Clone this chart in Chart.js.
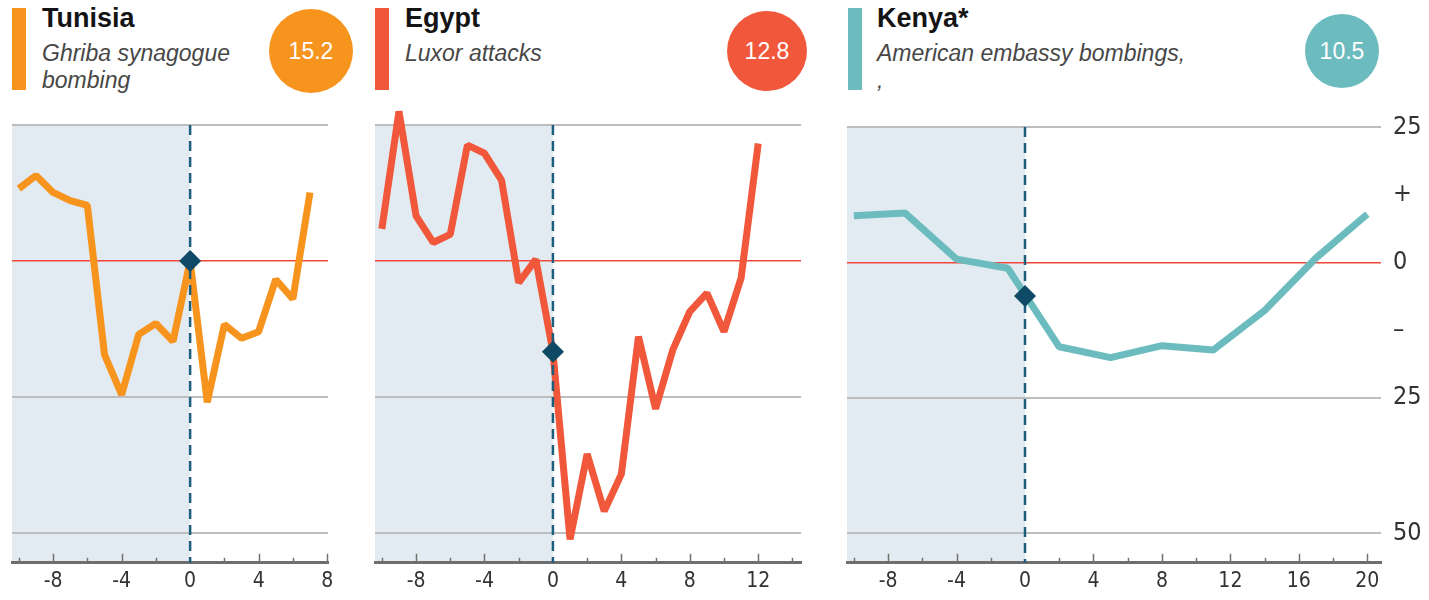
<!DOCTYPE html>
<html>
<head>
<meta charset="utf-8">
<script src="https://cdn.jsdelivr.net/npm/chart.js@4.4.1/dist/chart.umd.min.js"></script>
<style>
  body { margin: 0; background: #fff; width: 1429px; height: 600px; position: relative; overflow: hidden;
         font-family: "Liberation Sans", Arial, sans-serif; }
  .bar { position: absolute; top: 8px; width: 14px; height: 82px; }
  .ttl { position: absolute; top: 3px; font-weight: bold; font-size: 27px; line-height: 30px; color: #141414; white-space: nowrap; }
  .sub { position: absolute; top: 40px; font-style: italic; font-size: 23px; line-height: 27px; color: #474747; white-space: nowrap; }
  .dot { position: absolute; border-radius: 50%; color: #fff; font-size: 23px;
         display: flex; align-items: center; justify-content: center; }
  canvas { position: absolute; top: 100px; }
</style>
</head>
<body>
<div class="bar" style="left:12px;background:#f7941e"></div>
<div class="ttl" style="left:42px">Tunisia</div>
<div class="sub" style="left:42px">Ghriba synagogue<br>bombing</div>
<div class="dot" style="left:269px;top:9px;width:84px;height:84px;background:#f7941e">15.2</div>

<div class="bar" style="left:375px;background:#f0573b"></div>
<div class="ttl" style="left:405px">Egypt</div>
<div class="sub" style="left:405px">Luxor attacks</div>
<div class="dot" style="left:727px;top:11px;width:80px;height:80px;background:#f0573b">12.8</div>

<div class="bar" style="left:848px;background:#6cbcbf"></div>
<div class="ttl" style="left:877px">Kenya*</div>
<div class="sub" style="left:877px">American embassy bombings,<br>,</div>
<div class="dot" style="left:1305px;top:14px;width:74px;height:74px;background:#6cbcbf">10.5</div>

<canvas id="c1" width="345" height="500" style="left:0px"></canvas>
<canvas id="c2" width="455" height="500" style="left:360px"></canvas>
<canvas id="c3" width="594" height="500" style="left:835px"></canvas>

<script>
// months relative to the attack (x) and % change in tourist arrivals (y)
var tunisiaX = [-10, -9, -8, -7, -6, -5, -4, -3, -2, -1, 0, 1, 2, 3, 4, 5, 6, 7];
var tunisiaY = [13.3, 15.7, 12.6, 11.1, 10.2, -17.2, -24.6, -13.5, -11.5, -14.8, 0, -26, -11.7, -14.2, -13, -3.4, -7, 12.6];

var egyptX = [-10, -9, -8, -7, -6, -5, -4, -3, -2, -1, 0, 1, 2, 3, 4, 5, 6, 7, 8, 9, 10, 11, 12];
var egyptY = [5.9, 27.5, 8.3, 3.4, 4.9, 21.3, 19.8, 14.8, -4, 0.3, -16.7, -51.2, -35.5, -46, -39.2, -13.9, -27.2, -16.4, -9.3, -5.9, -13, -3.1, 21.6];

var kenyaX = [-10, -7, -4, -1, 2, 5, 8, 11, 14, 17, 20];
var kenyaY = [8.6, 9.1, 0.6, -1.1, -15.6, -17.6, -15.4, -16.2, -8.9, 0.8, 8.9];

// value at the moment of the attack
var markerY = [0, -16.7, -6.2];

var tunisiaTicks = [-10, -8, -6, -4, -2, 0, 2, 4, 6, 8];
var egyptTicks = [-10, -8, -6, -4, -2, 0, 2, 4, 6, 8, 10, 12, 14];
var kenyaTicks = [-10, -8, -6, -4, -2, 0, 2, 4, 6, 8, 10, 12, 14, 16, 18, 20];

var yTicks = [25, 12.5, 0, -12.5, -25, -50];
var yLabels = ['25', '+', '0', '\u2013', '25', '50'];

var narrow = '"Liberation Sans Narrow", "DejaVu Sans Condensed", "Liberation Sans", sans-serif';

// shaded "before" period, dashed attack line and small axis ticks
var shadePlugin = {
  id: 'shade',
  beforeDraw: function(chart) {
    var a = chart.chartArea, x0 = chart.scales.x.getPixelForValue(0);
    var ctx = chart.ctx;
    ctx.save();
    ctx.fillStyle = '#e2ebf1';
    ctx.fillRect(a.left, a.top, x0 - a.left, a.bottom - a.top);
    ctx.restore();
  },
  afterDatasetDraw: function(chart, args) {
    if (args.index !== 0) return;
    var a = chart.chartArea, x0 = chart.scales.x.getPixelForValue(0);
    var ctx = chart.ctx;
    ctx.save();
    ctx.strokeStyle = '#1d5e7c';
    ctx.lineWidth = 2.5;
    ctx.setLineDash([10, 6]);
    ctx.beginPath();
    ctx.moveTo(x0, a.top);
    ctx.lineTo(x0, a.bottom);
    ctx.stroke();
    ctx.restore();
  },
  afterDraw: function(chart) {
    var xs = chart.scales.x, a = chart.chartArea, ctx = chart.ctx;
    ctx.save();
    ctx.strokeStyle = '#707070';
    ctx.lineWidth = 1.5;
    xs.ticks.forEach(function(t) {
      if (t.value === 0) return;
      var px = Math.round(xs.getPixelForValue(t.value)) + 0.5;
      var len = t.value % 4 === 0 ? 9 : 5;
      ctx.beginPath();
      ctx.moveTo(px, a.bottom);
      ctx.lineTo(px, a.bottom - len);
      ctx.stroke();
    });
    ctx.restore();
  }
};

function makePanel(id, xs, ys, ticks, color, mY, xMax, showY, pad) {
  var pts = xs.map(function(x, i) { return { x: x, y: ys[i] }; });
  var yAxis = {
    min: -55.5, max: 25,
    position: 'right',
    afterBuildTicks: function(s) { s.ticks = yTicks.map(function(v) { return { value: v }; }); },
    grid: {
      drawTicks: false,
      color: function(c) {
        var v = c.tick && c.tick.value;
        if (v === 0) return '#f2473b';
        if (v === 25 || v === -25 || v === -50) return '#bdbdbd';
        return 'rgba(0,0,0,0)';
      },
      lineWidth: function(c) { return c.tick && c.tick.value === 0 ? 1.5 : 2; }
    },
    border: { display: false },
    ticks: {
      display: showY,
      padding: 12,
      color: '#333',
      font: { family: narrow, size: 25 },
      callback: function(v, i) { return yLabels[i]; }
    },
    afterFit: function(s) { s.width = showY ? 48 : 0; }
  };
  return new Chart(document.getElementById(id), {
    type: 'line',
    data: {
      datasets: [{
        data: pts,
        borderColor: color,
        borderWidth: 7,
        borderJoinStyle: 'bevel',
        pointRadius: 0,
        tension: 0,
        clip: false,
        order: 0
      }, {
        type: 'scatter',
        data: [{ x: 0, y: mY }],
        pointStyle: 'rectRot',
        pointRadius: 11,
        backgroundColor: '#0e4a66',
        borderWidth: 0,
        clip: false,
        order: -1
      }]
    },
    options: {
      responsive: false,
      animation: false,
      layout: { padding: pad },
      plugins: { legend: { display: false }, tooltip: { enabled: false } },
      scales: {
        x: {
          type: 'linear', min: -10.4, max: xMax,
          afterBuildTicks: function(s) { s.ticks = ticks.map(function(v) { return { value: v }; }); },
          grid: { display: false, drawTicks: false },
          border: { display: true, color: '#6e6e6e', width: 3 },
          ticks: {
            autoSkip: false, maxRotation: 0, padding: 6,
            color: '#333',
            font: { family: narrow, size: 21 },
            callback: function(v) { return v % 4 === 0 ? String(v) : ''; }
          }
        },
        y: yAxis
      }
    },
    plugins: [shadePlugin]
  });
}

makePanel('c1', tunisiaX, tunisiaY, tunisiaTicks, '#f7941e', markerY[0], 8.05, false, { top: 25, bottom: 0, left: 12, right: 17 });
makePanel('c2', egyptX, egyptY, egyptTicks, '#f0573b', markerY[1], 14.5, false, { top: 25, bottom: 0, left: 15, right: 14 });
makePanel('c3', kenyaX, kenyaY, kenyaTicks, '#6cbcbf', markerY[2], 20.8, true, { top: 25, bottom: 0, left: 12, right: 0 });
</script>
</body>
</html>
